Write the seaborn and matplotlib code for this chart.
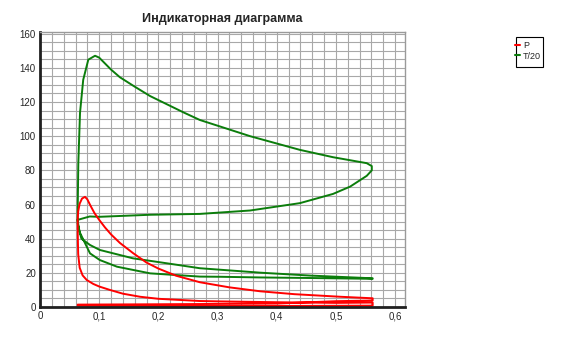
import matplotlib.pyplot as plt
import matplotlib.patches as patches
from matplotlib.lines import Line2D
from matplotlib.ticker import MultipleLocator, FuncFormatter
import pandas as pd
import seaborn as sns

# pressure P: intake, compression, combustion, expansion, blowdown, exhaust
p_x = [0.0636, 0.2, 0.4, 0.562, 0.562, 0.5, 0.4, 0.3, 0.27, 0.2, 0.169, 0.14, 0.118,
       0.1, 0.09, 0.079, 0.072, 0.067, 0.0645, 0.0638, 0.0636, 0.0645, 0.067, 0.071,
       0.076, 0.08, 0.085, 0.092, 0.1, 0.11, 0.12, 0.135, 0.157, 0.18, 0.2, 0.23,
       0.27, 0.32, 0.372, 0.43, 0.507, 0.562, 0.562, 0.5, 0.4, 0.2, 0.0636]
p_y = [0.8, 0.6, 0.6, 0.8, 2.6, 2.4, 2.8, 3.3, 3.5, 4.8, 6.0, 7.8, 10.0,
       12.0, 13.5, 15.8, 18.5, 23.0, 31.0, 42.0, 51.0, 56.0, 60.5, 63.5,
       64.5, 63.0, 59.5, 55.0, 51.0, 46.5, 42.5, 37.5, 31.6, 26.0, 22.5, 18.3,
       14.5, 11.5, 9.2, 7.5, 6.0, 5.1, 3.8, 3.4, 2.0, 1.6, 1.4]

# temperature / 20: intake, compression, combustion, expansion, exhaust
t_x = [0.0636, 0.066, 0.070, 0.0845, 0.101, 0.157, 0.214, 0.27, 0.372, 0.456, 0.562,
       0.562, 0.45, 0.372, 0.304, 0.27, 0.186, 0.13, 0.101, 0.0845, 0.0676, 0.0636,
       0.0636, 0.0647, 0.0676, 0.073, 0.0816, 0.093, 0.1, 0.12, 0.135, 0.16, 0.186,
       0.242, 0.27, 0.355, 0.439, 0.495, 0.552, 0.5605, 0.5605, 0.552, 0.524, 0.495,
       0.439, 0.355, 0.27, 0.186, 0.1, 0.084, 0.0636]
t_y = [51.0, 45.0, 40.0, 36.3, 33.4, 28.5, 25.6, 22.7, 20.1, 18.4, 16.8,
       16.5, 17.0, 17.3, 17.7, 17.8, 19.7, 23.6, 27.5, 31.4, 43.4, 49.0,
       55.0, 84.0, 113.7, 133.0, 144.8, 147.1, 146.0, 139.0, 134.5, 129.0, 123.5,
       114.0, 109.5, 100.0, 92.0, 87.7, 84.2, 82.5, 80.0, 76.8, 70.5, 66.2,
       60.8, 56.5, 54.5, 54.0, 52.8, 53.0, 51.0]

x_ticks = [0, 0.1, 0.2, 0.3, 0.4, 0.5, 0.6]
y_ticks = [0, 20, 40, 60, 80, 100, 120, 140, 160]

df_p = pd.DataFrame({"V": p_x, "val": p_y})
df_t = pd.DataFrame({"V": t_x, "val": t_y})

sns.set_style("white")
plt.rcParams["font.family"] = ["Liberation Sans", "DejaVu Sans"]

fig = plt.figure(figsize=(5.61, 3.51), dpi=100)
ax = fig.add_axes([40 / 561, 1 - 307 / 351, 365 / 561, 275 / 351])

red = "#ff0000"
green = "#0b7d0b"

sns.lineplot(data=df_t, x="V", y="val", sort=False, estimator=None, color=green,
             linewidth=1.4, ax=ax)
sns.lineplot(data=df_p, x="V", y="val", sort=False, estimator=None, color=red,
             linewidth=1.4, ax=ax)

ax.set_xlim(0, 0.6166)
ax.set_ylim(0, 161)
ax.set_xticks(x_ticks)
ax.set_yticks(y_ticks)
ax.xaxis.set_minor_locator(MultipleLocator(0.02))
ax.yaxis.set_minor_locator(MultipleLocator(5))
ax.xaxis.set_major_formatter(FuncFormatter(lambda v, p: ("%g" % round(v, 2)).replace(".", ",")))
ax.grid(True, which="both", color="#a8a8a8", linewidth=0.8)
ax.set_axisbelow(True)
ax.tick_params(axis="both", which="both", length=0, labelsize=7, pad=3)
ax.set_xlabel("")
ax.set_ylabel("")
for side in ["top", "right"]:
    ax.spines[side].set_color("#9a9a9a")
    ax.spines[side].set_linewidth(1)
for side in ["left", "bottom"]:
    ax.spines[side].set_color("#202020")
    ax.spines[side].set_linewidth(2)

fig.text(222 / 561, 1 - 19 / 351, "Индикаторная диаграмма", ha="center", va="center",
         fontsize=9, fontweight="bold")

# legend box
fig.patches.append(patches.Rectangle((516 / 561, 1 - 67 / 351), 27 / 561, 30 / 351,
                                     transform=fig.transFigure, fill=False,
                                     edgecolor="black", linewidth=0.8))
handles = [Line2D([], [], color=red, linewidth=1.5),
           Line2D([], [], color=green, linewidth=1.5)]
fig.legend(handles, ["P", "T/20"], loc="upper left", bbox_to_anchor=(513 / 561, 1 - 39 / 351),
           frameon=False, fontsize=6.5, handlelength=0.6, handletextpad=0.3,
           labelspacing=0.2, borderaxespad=0, borderpad=0.2)

fig.savefig("out.png", dpi=100)
